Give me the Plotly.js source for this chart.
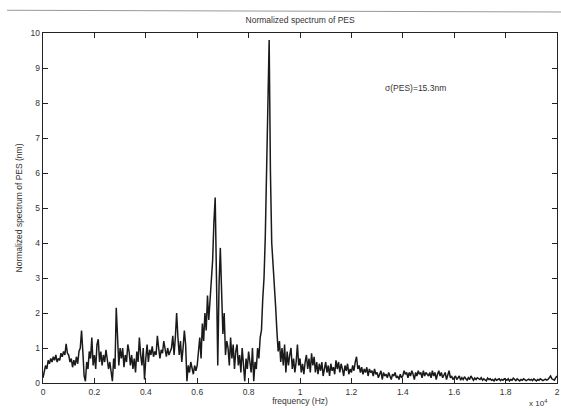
<!DOCTYPE html>
<html>
<head>
<meta charset="utf-8">
<script src="https://cdn.plot.ly/plotly-3.0.1.min.js"></script>
<style>html,body{margin:0;padding:0;background:#fff;}#chart{width:561px;height:410px;}</style>
</head>
<body>
<div id="chart"></div>
<script>
// frequency bin spacing (in units of 1e4 Hz)
var binStep = 0.005;
// normalized spectrum values (nm), one per bin from 0 to 2 (x1e4 Hz)
var spectrum = [
0.15,0.3,0.5,0.4,0.65,0.55,0.7,0.6,0.75,0.65,0.8,0.6,0.7,0.65,0.85,0.75,0.9,0.8,1.12,0.85,
0.8,0.6,0.7,0.45,0.65,0.5,0.75,0.55,0.9,1.0,1.5,0.9,0.2,0.05,0.6,0.4,0.9,0.7,1.3,0.5,
0.8,0.4,1.1,1.25,0.6,0.9,0.5,0.8,0.6,0.95,0.7,0.4,0.6,0.3,0.05,0.7,0.4,2.15,1.2,0.5,
1.0,0.7,1.0,0.45,0.8,0.6,1.1,0.9,0.5,0.8,0.4,0.7,0.3,0.9,0.6,1.3,0.8,0.5,1.0,0.1,
0.7,1.1,0.6,0.95,0.8,1.05,0.75,0.9,0.8,1.35,1.0,0.7,0.95,0.85,1.2,0.9,0.75,1.0,0.8,0.9,
1.0,1.35,0.8,1.3,2.0,1.3,0.8,1.2,0.6,1.0,1.5,1.1,0.05,0.5,0.3,0.6,0.4,0.25,0.5,0.35,
0.5,0.9,1.3,0.7,1.7,1.2,2.0,1.5,2.5,1.8,2.3,2.8,3.5,4.6,5.3,3.0,0.5,2.8,3.86,2.6,
1.4,2.0,0.8,1.2,1.0,0.5,1.3,0.7,1.1,0.4,0.9,1.1,0.5,0.8,0.3,1.0,0.6,0.05,0.7,0.4,
0.9,0.5,0.3,1.0,0.05,0.6,0.4,1.0,0.7,1.3,1.5,2.4,3.0,4.2,5.8,7.5,9.8,6.0,4.0,3.4,
2.6,2.2,1.5,0.9,1.2,0.6,1.0,0.5,1.1,0.3,0.9,0.5,0.8,1.0,0.4,0.7,0.3,0.6,1.1,0.5,
0.7,0.3,0.55,0.25,0.6,0.8,0.4,0.7,0.3,0.85,0.5,0.75,0.3,0.6,0.25,0.55,0.35,0.6,0.2,0.45,
0.6,0.3,0.5,0.2,0.55,0.35,0.45,0.25,0.65,0.4,0.6,0.3,0.55,0.4,0.2,0.5,0.35,0.55,0.25,0.4,
0.3,0.5,0.35,0.6,0.75,0.4,0.5,0.3,0.45,0.25,0.4,0.3,0.45,0.2,0.4,0.3,0.35,0.2,0.4,0.25,
0.3,0.15,0.25,0.35,0.1,0.3,0.2,0.25,0.15,0.3,0.2,0.1,0.25,0.2,0.3,0.15,0.2,0.1,0.25,0.15,
0.2,0.35,0.25,0.3,0.15,0.3,0.2,0.35,0.25,0.1,0.3,0.2,0.35,0.25,0.3,0.15,0.35,0.2,0.3,0.25,
0.2,0.3,0.15,0.35,0.2,0.3,0.1,0.25,0.35,0.2,0.3,0.15,0.25,0.3,0.1,0.2,0.35,0.15,0.2,0.1,
0.15,0.2,0.1,0.15,0.2,0.08,0.15,0.1,0.18,0.12,0.08,0.15,0.1,0.2,0.12,0.08,0.14,0.1,0.15,0.12,
0.1,0.15,0.08,0.12,0.1,0.06,0.14,0.1,0.12,0.08,0.1,0.06,0.12,0.08,0.1,0.12,0.07,0.1,0.08,0.12,
0.1,0.08,0.12,0.06,0.1,0.08,0.14,0.1,0.07,0.12,0.09,0.06,0.1,0.08,0.12,0.1,0.07,0.09,0.11,0.08,
0.1,0.07,0.12,0.09,0.06,0.1,0.08,0.12,0.1,0.07,0.09,0.11,0.08,0.1,0.15,0.2,0.12,0.1,0.08,0.15,
0.2
];
var xTickVals = [0,0.2,0.4,0.6,0.8,1,1.2,1.4,1.6,1.8,2];
var xTickText = ["0","0.2","0.4","0.6","0.8","1","1.2","1.4","1.6","1.8","2"];
var yTickVals = [0,1,2,3,4,5,6,7,8,9,10];

var freq = spectrum.map(function(v,i){ return i*binStep; });

var fontFam = "Liberation Sans, Arial, sans-serif";
var trace = {
  x: freq, y: spectrum, type: 'scatter', mode: 'lines',
  line: {color: '#1a1a1a', width: 1.5}, hoverinfo: 'none'
};
var axisCommon = {
  showline: true, linecolor: '#222', linewidth: 1.3, mirror: 'ticks',
  ticks: 'inside', ticklen: 5, tickcolor: '#222', tickwidth: 1,
  showgrid: false, zeroline: false,
  tickfont: {family: fontFam, size: 8.5, color: '#333'}
};
var layout = {
  width: 561, height: 410,
  margin: {l: 43, r: 4, t: 33, b: 27},
  paper_bgcolor: '#fff', plot_bgcolor: '#fff',
  showlegend: false,
  title: {text: 'Normalized spectrum of PES', x: 0.535, xanchor: 'center', y: 0.952, yanchor: 'middle',
          font: {family: fontFam, size: 8.5, color: '#333'}},
  xaxis: Object.assign({}, axisCommon, {
    range: [0, 2], tickvals: xTickVals, ticktext: xTickText,
    title: {text: 'frequency (Hz)', font: {family: fontFam, size: 8.5, color: '#333'}, standoff: 2}
  }),
  yaxis: Object.assign({}, axisCommon, {
    range: [0, 10], tickvals: yTickVals,
    title: {text: 'Normalized spectrum of PES (nm)', font: {family: fontFam, size: 8.5, color: '#333'}, standoff: 6}
  }),
  annotations: [
    {x: 1.45, y: 8.43, xref: 'x', yref: 'y', text: 'σ(PES)=15.3nm', showarrow: false,
     font: {family: fontFam, size: 8.5, color: '#333'}},
    {x: 0.985, y: -0.058, xref: 'paper', yref: 'paper', xanchor: 'right', yanchor: 'middle',
     text: 'x 10<sup>4</sup>', showarrow: false, font: {family: fontFam, size: 8, color: '#333'}}
  ],
  shapes: [
    {type: 'line', xref: 'paper', yref: 'paper', x0: -0.07, x1: 1.01, y0: 1.065, y1: 1.06,
     line: {color: '#999', width: 1}}
  ]
};
Plotly.newPlot('chart', [trace], layout, {staticPlot: true, displayModeBar: false});
</script>
</body>
</html>
